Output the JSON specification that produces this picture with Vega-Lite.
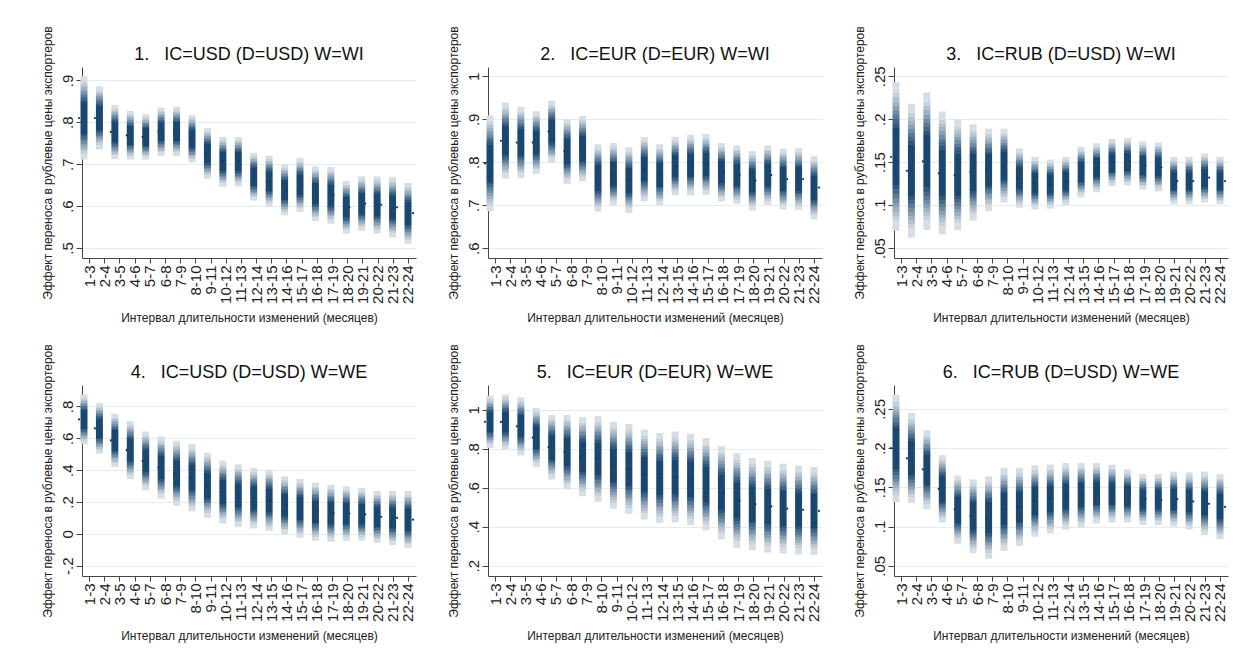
{
"$schema": "https://vega.github.io/schema/vega-lite/v6.json",
"background": "white",
"padding": {"left": 40, "top": 25, "right": 5, "bottom": 5},
"datasets": {"d": [
{"panel":1,"interval":"1-3","from":1,"est":0.810,"lo":0.711,"hi":0.910},
{"panel":1,"interval":"2-4","from":2,"est":0.810,"lo":0.735,"hi":0.886},
{"panel":1,"interval":"3-5","from":3,"est":0.777,"lo":0.712,"hi":0.841},
{"panel":1,"interval":"4-6","from":4,"est":0.769,"lo":0.711,"hi":0.827},
{"panel":1,"interval":"5-7","from":5,"est":0.765,"lo":0.711,"hi":0.819},
{"panel":1,"interval":"6-8","from":6,"est":0.778,"lo":0.720,"hi":0.835},
{"panel":1,"interval":"7-9","from":7,"est":0.779,"lo":0.720,"hi":0.837},
{"panel":1,"interval":"8-10","from":8,"est":0.761,"lo":0.704,"hi":0.817},
{"panel":1,"interval":"9-11","from":9,"est":0.726,"lo":0.665,"hi":0.786},
{"panel":1,"interval":"10-12","from":10,"est":0.706,"lo":0.646,"hi":0.765},
{"panel":1,"interval":"11-13","from":11,"est":0.706,"lo":0.647,"hi":0.765},
{"panel":1,"interval":"12-14","from":12,"est":0.670,"lo":0.613,"hi":0.727},
{"panel":1,"interval":"13-15","from":13,"est":0.659,"lo":0.599,"hi":0.720},
{"panel":1,"interval":"14-16","from":14,"est":0.638,"lo":0.578,"hi":0.699},
{"panel":1,"interval":"15-17","from":15,"est":0.650,"lo":0.586,"hi":0.715},
{"panel":1,"interval":"16-18","from":16,"est":0.630,"lo":0.564,"hi":0.695},
{"panel":1,"interval":"17-19","from":17,"est":0.626,"lo":0.558,"hi":0.693},
{"panel":1,"interval":"18-20","from":18,"est":0.597,"lo":0.534,"hi":0.660},
{"panel":1,"interval":"19-21","from":19,"est":0.606,"lo":0.541,"hi":0.671},
{"panel":1,"interval":"20-22","from":20,"est":0.603,"lo":0.534,"hi":0.671},
{"panel":1,"interval":"21-23","from":21,"est":0.597,"lo":0.525,"hi":0.669},
{"panel":1,"interval":"22-24","from":22,"est":0.583,"lo":0.510,"hi":0.655},
{"panel":2,"interval":"1-3","from":1,"est":0.797,"lo":0.686,"hi":0.909},
{"panel":2,"interval":"2-4","from":2,"est":0.850,"lo":0.762,"hi":0.939},
{"panel":2,"interval":"3-5","from":3,"est":0.846,"lo":0.763,"hi":0.929},
{"panel":2,"interval":"4-6","from":4,"est":0.846,"lo":0.773,"hi":0.919},
{"panel":2,"interval":"5-7","from":5,"est":0.872,"lo":0.799,"hi":0.944},
{"panel":2,"interval":"6-8","from":6,"est":0.826,"lo":0.750,"hi":0.901},
{"panel":2,"interval":"7-9","from":7,"est":0.832,"lo":0.756,"hi":0.908},
{"panel":2,"interval":"8-10","from":8,"est":0.764,"lo":0.685,"hi":0.842},
{"panel":2,"interval":"9-11","from":9,"est":0.772,"lo":0.699,"hi":0.845},
{"panel":2,"interval":"10-12","from":10,"est":0.759,"lo":0.682,"hi":0.835},
{"panel":2,"interval":"11-13","from":11,"est":0.784,"lo":0.709,"hi":0.859},
{"panel":2,"interval":"12-14","from":12,"est":0.771,"lo":0.699,"hi":0.842},
{"panel":2,"interval":"13-15","from":13,"est":0.791,"lo":0.723,"hi":0.859},
{"panel":2,"interval":"14-16","from":14,"est":0.793,"lo":0.723,"hi":0.864},
{"panel":2,"interval":"15-17","from":15,"est":0.795,"lo":0.724,"hi":0.866},
{"panel":2,"interval":"16-18","from":16,"est":0.777,"lo":0.709,"hi":0.845},
{"panel":2,"interval":"17-19","from":17,"est":0.771,"lo":0.703,"hi":0.839},
{"panel":2,"interval":"18-20","from":18,"est":0.757,"lo":0.688,"hi":0.826},
{"panel":2,"interval":"19-21","from":19,"est":0.770,"lo":0.701,"hi":0.839},
{"panel":2,"interval":"20-22","from":20,"est":0.761,"lo":0.690,"hi":0.832},
{"panel":2,"interval":"21-23","from":21,"est":0.761,"lo":0.689,"hi":0.833},
{"panel":2,"interval":"22-24","from":22,"est":0.741,"lo":0.667,"hi":0.814},
{"panel":3,"interval":"1-3","from":1,"est":0.156,"lo":0.070,"hi":0.243},
{"panel":3,"interval":"2-4","from":2,"est":0.140,"lo":0.062,"hi":0.218},
{"panel":3,"interval":"3-5","from":3,"est":0.151,"lo":0.071,"hi":0.231},
{"panel":3,"interval":"4-6","from":4,"est":0.137,"lo":0.066,"hi":0.209},
{"panel":3,"interval":"5-7","from":5,"est":0.135,"lo":0.071,"hi":0.200},
{"panel":3,"interval":"6-8","from":6,"est":0.138,"lo":0.082,"hi":0.194},
{"panel":3,"interval":"7-9","from":7,"est":0.141,"lo":0.093,"hi":0.189},
{"panel":3,"interval":"8-10","from":8,"est":0.146,"lo":0.103,"hi":0.189},
{"panel":3,"interval":"9-11","from":9,"est":0.131,"lo":0.097,"hi":0.166},
{"panel":3,"interval":"10-12","from":10,"est":0.125,"lo":0.095,"hi":0.156},
{"panel":3,"interval":"11-13","from":11,"est":0.124,"lo":0.096,"hi":0.153},
{"panel":3,"interval":"12-14","from":12,"est":0.128,"lo":0.100,"hi":0.156},
{"panel":3,"interval":"13-15","from":13,"est":0.139,"lo":0.109,"hi":0.168},
{"panel":3,"interval":"14-16","from":14,"est":0.143,"lo":0.115,"hi":0.172},
{"panel":3,"interval":"15-17","from":15,"est":0.150,"lo":0.122,"hi":0.177},
{"panel":3,"interval":"16-18","from":16,"est":0.151,"lo":0.123,"hi":0.178},
{"panel":3,"interval":"17-19","from":17,"est":0.146,"lo":0.118,"hi":0.174},
{"panel":3,"interval":"18-20","from":18,"est":0.144,"lo":0.116,"hi":0.173},
{"panel":3,"interval":"19-21","from":19,"est":0.128,"lo":0.101,"hi":0.156},
{"panel":3,"interval":"20-22","from":20,"est":0.128,"lo":0.101,"hi":0.156},
{"panel":3,"interval":"21-23","from":21,"est":0.132,"lo":0.103,"hi":0.160},
{"panel":3,"interval":"22-24","from":22,"est":0.128,"lo":0.101,"hi":0.156},
{"panel":4,"interval":"1-3","from":1,"est":0.719,"lo":0.562,"hi":0.875},
{"panel":4,"interval":"2-4","from":2,"est":0.662,"lo":0.504,"hi":0.821},
{"panel":4,"interval":"3-5","from":3,"est":0.587,"lo":0.420,"hi":0.754},
{"panel":4,"interval":"4-6","from":4,"est":0.526,"lo":0.343,"hi":0.708},
{"panel":4,"interval":"5-7","from":5,"est":0.459,"lo":0.274,"hi":0.643},
{"panel":4,"interval":"6-8","from":6,"est":0.417,"lo":0.222,"hi":0.612},
{"panel":4,"interval":"7-9","from":7,"est":0.380,"lo":0.176,"hi":0.585},
{"panel":4,"interval":"8-10","from":8,"est":0.353,"lo":0.142,"hi":0.564},
{"panel":4,"interval":"9-11","from":9,"est":0.305,"lo":0.101,"hi":0.510},
{"panel":4,"interval":"10-12","from":10,"est":0.262,"lo":0.065,"hi":0.460},
{"panel":4,"interval":"11-13","from":11,"est":0.241,"lo":0.044,"hi":0.437},
{"panel":4,"interval":"12-14","from":12,"est":0.224,"lo":0.034,"hi":0.414},
{"panel":4,"interval":"13-15","from":13,"est":0.211,"lo":0.019,"hi":0.403},
{"panel":4,"interval":"14-16","from":14,"est":0.179,"lo":-0.004,"hi":0.362},
{"panel":4,"interval":"15-17","from":15,"est":0.160,"lo":-0.025,"hi":0.345},
{"panel":4,"interval":"16-18","from":16,"est":0.139,"lo":-0.043,"hi":0.322},
{"panel":4,"interval":"17-19","from":17,"est":0.130,"lo":-0.050,"hi":0.309},
{"panel":4,"interval":"18-20","from":18,"est":0.128,"lo":-0.043,"hi":0.299},
{"panel":4,"interval":"19-21","from":19,"est":0.123,"lo":-0.043,"hi":0.289},
{"panel":4,"interval":"20-22","from":20,"est":0.107,"lo":-0.056,"hi":0.270},
{"panel":4,"interval":"21-23","from":21,"est":0.100,"lo":-0.071,"hi":0.270},
{"panel":4,"interval":"22-24","from":22,"est":0.089,"lo":-0.091,"hi":0.270},
{"panel":5,"interval":"1-3","from":1,"est":0.939,"lo":0.804,"hi":1.073},
{"panel":5,"interval":"2-4","from":2,"est":0.938,"lo":0.797,"hi":1.079},
{"panel":5,"interval":"3-5","from":3,"est":0.916,"lo":0.766,"hi":1.065},
{"panel":5,"interval":"4-6","from":4,"est":0.858,"lo":0.707,"hi":1.010},
{"panel":5,"interval":"5-7","from":5,"est":0.808,"lo":0.642,"hi":0.974},
{"panel":5,"interval":"6-8","from":6,"est":0.783,"lo":0.592,"hi":0.974},
{"panel":5,"interval":"7-9","from":7,"est":0.760,"lo":0.557,"hi":0.963},
{"panel":5,"interval":"8-10","from":8,"est":0.748,"lo":0.528,"hi":0.968},
{"panel":5,"interval":"9-11","from":9,"est":0.717,"lo":0.493,"hi":0.940},
{"panel":5,"interval":"10-12","from":10,"est":0.697,"lo":0.466,"hi":0.928},
{"panel":5,"interval":"11-13","from":11,"est":0.668,"lo":0.437,"hi":0.899},
{"panel":5,"interval":"12-14","from":12,"est":0.651,"lo":0.420,"hi":0.882},
{"panel":5,"interval":"13-15","from":13,"est":0.655,"lo":0.422,"hi":0.889},
{"panel":5,"interval":"14-16","from":14,"est":0.643,"lo":0.408,"hi":0.877},
{"panel":5,"interval":"15-17","from":15,"est":0.618,"lo":0.381,"hi":0.855},
{"panel":5,"interval":"16-18","from":16,"est":0.574,"lo":0.335,"hi":0.814},
{"panel":5,"interval":"17-19","from":17,"est":0.534,"lo":0.292,"hi":0.777},
{"panel":5,"interval":"18-20","from":18,"est":0.516,"lo":0.280,"hi":0.753},
{"panel":5,"interval":"19-21","from":19,"est":0.504,"lo":0.268,"hi":0.739},
{"panel":5,"interval":"20-22","from":20,"est":0.493,"lo":0.263,"hi":0.724},
{"panel":5,"interval":"21-23","from":21,"est":0.487,"lo":0.258,"hi":0.715},
{"panel":5,"interval":"22-24","from":22,"est":0.481,"lo":0.255,"hi":0.707},
{"panel":6,"interval":"1-3","from":1,"est":0.200,"lo":0.131,"hi":0.268},
{"panel":6,"interval":"2-4","from":2,"est":0.187,"lo":0.130,"hi":0.245},
{"panel":6,"interval":"3-5","from":3,"est":0.173,"lo":0.122,"hi":0.223},
{"panel":6,"interval":"4-6","from":4,"est":0.148,"lo":0.105,"hi":0.191},
{"panel":6,"interval":"5-7","from":5,"est":0.122,"lo":0.078,"hi":0.165},
{"panel":6,"interval":"6-8","from":6,"est":0.113,"lo":0.066,"hi":0.160},
{"panel":6,"interval":"7-9","from":7,"est":0.111,"lo":0.059,"hi":0.164},
{"panel":6,"interval":"8-10","from":8,"est":0.122,"lo":0.069,"hi":0.175},
{"panel":6,"interval":"9-11","from":9,"est":0.125,"lo":0.075,"hi":0.175},
{"panel":6,"interval":"10-12","from":10,"est":0.133,"lo":0.087,"hi":0.178},
{"panel":6,"interval":"11-13","from":11,"est":0.135,"lo":0.091,"hi":0.179},
{"panel":6,"interval":"12-14","from":12,"est":0.139,"lo":0.096,"hi":0.181},
{"panel":6,"interval":"13-15","from":13,"est":0.140,"lo":0.099,"hi":0.181},
{"panel":6,"interval":"14-16","from":14,"est":0.143,"lo":0.104,"hi":0.181},
{"panel":6,"interval":"15-17","from":15,"est":0.142,"lo":0.105,"hi":0.179},
{"panel":6,"interval":"16-18","from":16,"est":0.139,"lo":0.105,"hi":0.173},
{"panel":6,"interval":"17-19","from":17,"est":0.135,"lo":0.102,"hi":0.167},
{"panel":6,"interval":"18-20","from":18,"est":0.134,"lo":0.102,"hi":0.167},
{"panel":6,"interval":"19-21","from":19,"est":0.135,"lo":0.100,"hi":0.170},
{"panel":6,"interval":"20-22","from":20,"est":0.132,"lo":0.096,"hi":0.169},
{"panel":6,"interval":"21-23","from":21,"est":0.129,"lo":0.089,"hi":0.170},
{"panel":6,"interval":"22-24","from":22,"est":0.125,"lo":0.084,"hi":0.167}
]},
"data": {"name": "d"},
"columns": 3,
"spacing": {"row": 127, "column": 72},
"bounds": "flush",
"concat": [
{"title": {"text": "1.\u00a0\u00a0\u00a0IC=USD (D=USD) W=WI"}, "width": 334, "height": 191,
 "transform": [{"filter": "datum.panel == 1"}],
 "layer": [
  {"mark": {"type": "rule", "opacity": 0}, "encoding": {"x": {"field": "interval", "type": "ordinal", "sort": {"field": "from", "op": "min"}, "scale": {"type": "band", "paddingInner": 0, "paddingOuter": 0}, "axis": {"title": "Интервал длительности изменений (месяцев)", "orient": "bottom", "labelOverlap": false}}}},
  {"mark": {"type": "bar", "width": 7, "xOffset": -3, "clip": false, "color": {"gradient": "linear", "x1": 0, "y1": 0, "x2": 0, "y2": 1, "stops": [{"offset": 0, "color": "#d6dee5"}, {"offset": 0.07, "color": "#d6dee5"}, {"offset": 0.07, "color": "#c6d1db"}, {"offset": 0.1, "color": "#c6d1db"}, {"offset": 0.1, "color": "#b3c2cf"}, {"offset": 0.13, "color": "#b3c2cf"}, {"offset": 0.13, "color": "#9fb2c3"}, {"offset": 0.16, "color": "#9fb2c3"}, {"offset": 0.16, "color": "#889fb4"}, {"offset": 0.19, "color": "#889fb4"}, {"offset": 0.19, "color": "#718da6"}, {"offset": 0.22, "color": "#718da6"}, {"offset": 0.22, "color": "#5a7a97"}, {"offset": 0.25, "color": "#5a7a97"}, {"offset": 0.25, "color": "#436889"}, {"offset": 0.28, "color": "#436889"}, {"offset": 0.28, "color": "#2f587c"}, {"offset": 0.31, "color": "#2f587c"}, {"offset": 0.31, "color": "#1a476f"}, {"offset": 0.69, "color": "#1a476f"}, {"offset": 0.69, "color": "#2f587c"}, {"offset": 0.72, "color": "#2f587c"}, {"offset": 0.72, "color": "#436889"}, {"offset": 0.75, "color": "#436889"}, {"offset": 0.75, "color": "#5a7a97"}, {"offset": 0.78, "color": "#5a7a97"}, {"offset": 0.78, "color": "#718da6"}, {"offset": 0.81, "color": "#718da6"}, {"offset": 0.81, "color": "#889fb4"}, {"offset": 0.84, "color": "#889fb4"}, {"offset": 0.84, "color": "#9fb2c3"}, {"offset": 0.87, "color": "#9fb2c3"}, {"offset": 0.87, "color": "#b3c2cf"}, {"offset": 0.9, "color": "#b3c2cf"}, {"offset": 0.9, "color": "#c6d1db"}, {"offset": 0.93, "color": "#c6d1db"}, {"offset": 0.93, "color": "#d6dee5"}, {"offset": 1, "color": "#d6dee5"}]}},
   "encoding": {"x": {"field": "from", "type": "quantitative", "scale": {"domain": [1, 22], "nice": false, "zero": false}, "axis": null},
    "y": {"field": "lo", "type": "quantitative", "scale": {"domain": [0.476, 0.932], "nice": false, "zero": false}, "axis": {"title": "Эффект переноса в рублевые цены экспортеров", "values": [0.5, 0.6, 0.7, 0.8, 0.9], "tickCount": 12, "labelOverlap": false}},
    "y2": {"field": "hi"}}},
  {"mark": {"type": "circle", "size": 5, "opacity": 1, "color": "#14395c", "xOffset": -3, "clip": false},
   "encoding": {"x": {"field": "from", "type": "quantitative", "scale": {"domain": [1, 22], "nice": false, "zero": false}, "axis": null}, "y": {"field": "est", "type": "quantitative"}}}
 ],
 "resolve": {"scale": {"x": "independent"}}},
{"title": {"text": "2.\u00a0\u00a0\u00a0IC=EUR (D=EUR) W=WI"}, "width": 334, "height": 191,
 "transform": [{"filter": "datum.panel == 2"}],
 "layer": [
  {"mark": {"type": "rule", "opacity": 0}, "encoding": {"x": {"field": "interval", "type": "ordinal", "sort": {"field": "from", "op": "min"}, "scale": {"type": "band", "paddingInner": 0, "paddingOuter": 0}, "axis": {"title": "Интервал длительности изменений (месяцев)", "orient": "bottom", "labelOverlap": false}}}},
  {"mark": {"type": "bar", "width": 7, "xOffset": -3, "clip": false, "color": {"gradient": "linear", "x1": 0, "y1": 0, "x2": 0, "y2": 1, "stops": [{"offset": 0, "color": "#d6dee5"}, {"offset": 0.07, "color": "#d6dee5"}, {"offset": 0.07, "color": "#c6d1db"}, {"offset": 0.1, "color": "#c6d1db"}, {"offset": 0.1, "color": "#b3c2cf"}, {"offset": 0.13, "color": "#b3c2cf"}, {"offset": 0.13, "color": "#9fb2c3"}, {"offset": 0.16, "color": "#9fb2c3"}, {"offset": 0.16, "color": "#889fb4"}, {"offset": 0.19, "color": "#889fb4"}, {"offset": 0.19, "color": "#718da6"}, {"offset": 0.22, "color": "#718da6"}, {"offset": 0.22, "color": "#5a7a97"}, {"offset": 0.25, "color": "#5a7a97"}, {"offset": 0.25, "color": "#436889"}, {"offset": 0.28, "color": "#436889"}, {"offset": 0.28, "color": "#2f587c"}, {"offset": 0.31, "color": "#2f587c"}, {"offset": 0.31, "color": "#1a476f"}, {"offset": 0.69, "color": "#1a476f"}, {"offset": 0.69, "color": "#2f587c"}, {"offset": 0.72, "color": "#2f587c"}, {"offset": 0.72, "color": "#436889"}, {"offset": 0.75, "color": "#436889"}, {"offset": 0.75, "color": "#5a7a97"}, {"offset": 0.78, "color": "#5a7a97"}, {"offset": 0.78, "color": "#718da6"}, {"offset": 0.81, "color": "#718da6"}, {"offset": 0.81, "color": "#889fb4"}, {"offset": 0.84, "color": "#889fb4"}, {"offset": 0.84, "color": "#9fb2c3"}, {"offset": 0.87, "color": "#9fb2c3"}, {"offset": 0.87, "color": "#b3c2cf"}, {"offset": 0.9, "color": "#b3c2cf"}, {"offset": 0.9, "color": "#c6d1db"}, {"offset": 0.93, "color": "#c6d1db"}, {"offset": 0.93, "color": "#d6dee5"}, {"offset": 1, "color": "#d6dee5"}]}},
   "encoding": {"x": {"field": "from", "type": "quantitative", "scale": {"domain": [1, 22], "nice": false, "zero": false}, "axis": null},
    "y": {"field": "lo", "type": "quantitative", "scale": {"domain": [0.577, 1.022], "nice": false, "zero": false}, "axis": {"title": "Эффект переноса в рублевые цены экспортеров", "values": [0.6, 0.7, 0.8, 0.9, 1], "tickCount": 12, "labelOverlap": false}},
    "y2": {"field": "hi"}}},
  {"mark": {"type": "circle", "size": 5, "opacity": 1, "color": "#14395c", "xOffset": -3, "clip": false},
   "encoding": {"x": {"field": "from", "type": "quantitative", "scale": {"domain": [1, 22], "nice": false, "zero": false}, "axis": null}, "y": {"field": "est", "type": "quantitative"}}}
 ],
 "resolve": {"scale": {"x": "independent"}}},
{"title": {"text": "3.\u00a0\u00a0\u00a0IC=RUB (D=USD) W=WI"}, "width": 334, "height": 191,
 "transform": [{"filter": "datum.panel == 3"}],
 "layer": [
  {"mark": {"type": "rule", "opacity": 0}, "encoding": {"x": {"field": "interval", "type": "ordinal", "sort": {"field": "from", "op": "min"}, "scale": {"type": "band", "paddingInner": 0, "paddingOuter": 0}, "axis": {"title": "Интервал длительности изменений (месяцев)", "orient": "bottom", "labelOverlap": false}}}},
  {"mark": {"type": "bar", "width": 7, "xOffset": -3, "clip": false, "color": {"gradient": "linear", "x1": 0, "y1": 0, "x2": 0, "y2": 1, "stops": [{"offset": 0, "color": "#d6dee5"}, {"offset": 0.07, "color": "#d6dee5"}, {"offset": 0.07, "color": "#c6d1db"}, {"offset": 0.1, "color": "#c6d1db"}, {"offset": 0.1, "color": "#b3c2cf"}, {"offset": 0.13, "color": "#b3c2cf"}, {"offset": 0.13, "color": "#9fb2c3"}, {"offset": 0.16, "color": "#9fb2c3"}, {"offset": 0.16, "color": "#889fb4"}, {"offset": 0.19, "color": "#889fb4"}, {"offset": 0.19, "color": "#718da6"}, {"offset": 0.22, "color": "#718da6"}, {"offset": 0.22, "color": "#5a7a97"}, {"offset": 0.25, "color": "#5a7a97"}, {"offset": 0.25, "color": "#436889"}, {"offset": 0.28, "color": "#436889"}, {"offset": 0.28, "color": "#2f587c"}, {"offset": 0.31, "color": "#2f587c"}, {"offset": 0.31, "color": "#1a476f"}, {"offset": 0.69, "color": "#1a476f"}, {"offset": 0.69, "color": "#2f587c"}, {"offset": 0.72, "color": "#2f587c"}, {"offset": 0.72, "color": "#436889"}, {"offset": 0.75, "color": "#436889"}, {"offset": 0.75, "color": "#5a7a97"}, {"offset": 0.78, "color": "#5a7a97"}, {"offset": 0.78, "color": "#718da6"}, {"offset": 0.81, "color": "#718da6"}, {"offset": 0.81, "color": "#889fb4"}, {"offset": 0.84, "color": "#889fb4"}, {"offset": 0.84, "color": "#9fb2c3"}, {"offset": 0.87, "color": "#9fb2c3"}, {"offset": 0.87, "color": "#b3c2cf"}, {"offset": 0.9, "color": "#b3c2cf"}, {"offset": 0.9, "color": "#c6d1db"}, {"offset": 0.93, "color": "#c6d1db"}, {"offset": 0.93, "color": "#d6dee5"}, {"offset": 1, "color": "#d6dee5"}]}},
   "encoding": {"x": {"field": "from", "type": "quantitative", "scale": {"domain": [1, 22], "nice": false, "zero": false}, "axis": null},
    "y": {"field": "lo", "type": "quantitative", "scale": {"domain": [0.0384, 0.2608], "nice": false, "zero": false}, "axis": {"title": "Эффект переноса в рублевые цены экспортеров", "values": [0.05, 0.1, 0.15, 0.2, 0.25], "tickCount": 12, "labelOverlap": false}},
    "y2": {"field": "hi"}}},
  {"mark": {"type": "circle", "size": 5, "opacity": 1, "color": "#14395c", "xOffset": -3, "clip": false},
   "encoding": {"x": {"field": "from", "type": "quantitative", "scale": {"domain": [1, 22], "nice": false, "zero": false}, "axis": null}, "y": {"field": "est", "type": "quantitative"}}}
 ],
 "resolve": {"scale": {"x": "independent"}}},
{"title": {"text": "4.\u00a0\u00a0\u00a0IC=USD (D=USD) W=WE"}, "width": 334, "height": 191,
 "transform": [{"filter": "datum.panel == 4"}],
 "layer": [
  {"mark": {"type": "rule", "opacity": 0}, "encoding": {"x": {"field": "interval", "type": "ordinal", "sort": {"field": "from", "op": "min"}, "scale": {"type": "band", "paddingInner": 0, "paddingOuter": 0}, "axis": {"title": "Интервал длительности изменений (месяцев)", "orient": "bottom", "labelOverlap": false}}}},
  {"mark": {"type": "bar", "width": 7, "xOffset": -3, "clip": false, "color": {"gradient": "linear", "x1": 0, "y1": 0, "x2": 0, "y2": 1, "stops": [{"offset": 0, "color": "#d6dee5"}, {"offset": 0.07, "color": "#d6dee5"}, {"offset": 0.07, "color": "#c6d1db"}, {"offset": 0.1, "color": "#c6d1db"}, {"offset": 0.1, "color": "#b3c2cf"}, {"offset": 0.13, "color": "#b3c2cf"}, {"offset": 0.13, "color": "#9fb2c3"}, {"offset": 0.16, "color": "#9fb2c3"}, {"offset": 0.16, "color": "#889fb4"}, {"offset": 0.19, "color": "#889fb4"}, {"offset": 0.19, "color": "#718da6"}, {"offset": 0.22, "color": "#718da6"}, {"offset": 0.22, "color": "#5a7a97"}, {"offset": 0.25, "color": "#5a7a97"}, {"offset": 0.25, "color": "#436889"}, {"offset": 0.28, "color": "#436889"}, {"offset": 0.28, "color": "#2f587c"}, {"offset": 0.31, "color": "#2f587c"}, {"offset": 0.31, "color": "#1a476f"}, {"offset": 0.69, "color": "#1a476f"}, {"offset": 0.69, "color": "#2f587c"}, {"offset": 0.72, "color": "#2f587c"}, {"offset": 0.72, "color": "#436889"}, {"offset": 0.75, "color": "#436889"}, {"offset": 0.75, "color": "#5a7a97"}, {"offset": 0.78, "color": "#5a7a97"}, {"offset": 0.78, "color": "#718da6"}, {"offset": 0.81, "color": "#718da6"}, {"offset": 0.81, "color": "#889fb4"}, {"offset": 0.84, "color": "#889fb4"}, {"offset": 0.84, "color": "#9fb2c3"}, {"offset": 0.87, "color": "#9fb2c3"}, {"offset": 0.87, "color": "#b3c2cf"}, {"offset": 0.9, "color": "#b3c2cf"}, {"offset": 0.9, "color": "#c6d1db"}, {"offset": 0.93, "color": "#c6d1db"}, {"offset": 0.93, "color": "#d6dee5"}, {"offset": 1, "color": "#d6dee5"}]}},
   "encoding": {"x": {"field": "from", "type": "quantitative", "scale": {"domain": [1, 22], "nice": false, "zero": false}, "axis": null},
    "y": {"field": "lo", "type": "quantitative", "scale": {"domain": [-0.2645, 0.935], "nice": false, "zero": false}, "axis": {"title": "Эффект переноса в рублевые цены экспортеров", "values": [-0.2, 0, 0.2, 0.4, 0.6, 0.8], "tickCount": 12, "labelOverlap": false}},
    "y2": {"field": "hi"}}},
  {"mark": {"type": "circle", "size": 5, "opacity": 1, "color": "#14395c", "xOffset": -3, "clip": false},
   "encoding": {"x": {"field": "from", "type": "quantitative", "scale": {"domain": [1, 22], "nice": false, "zero": false}, "axis": null}, "y": {"field": "est", "type": "quantitative"}}}
 ],
 "resolve": {"scale": {"x": "independent"}}},
{"title": {"text": "5.\u00a0\u00a0\u00a0IC=EUR (D=EUR) W=WE"}, "width": 334, "height": 191,
 "transform": [{"filter": "datum.panel == 5"}],
 "layer": [
  {"mark": {"type": "rule", "opacity": 0}, "encoding": {"x": {"field": "interval", "type": "ordinal", "sort": {"field": "from", "op": "min"}, "scale": {"type": "band", "paddingInner": 0, "paddingOuter": 0}, "axis": {"title": "Интервал длительности изменений (месяцев)", "orient": "bottom", "labelOverlap": false}}}},
  {"mark": {"type": "bar", "width": 7, "xOffset": -3, "clip": false, "color": {"gradient": "linear", "x1": 0, "y1": 0, "x2": 0, "y2": 1, "stops": [{"offset": 0, "color": "#d6dee5"}, {"offset": 0.07, "color": "#d6dee5"}, {"offset": 0.07, "color": "#c6d1db"}, {"offset": 0.1, "color": "#c6d1db"}, {"offset": 0.1, "color": "#b3c2cf"}, {"offset": 0.13, "color": "#b3c2cf"}, {"offset": 0.13, "color": "#9fb2c3"}, {"offset": 0.16, "color": "#9fb2c3"}, {"offset": 0.16, "color": "#889fb4"}, {"offset": 0.19, "color": "#889fb4"}, {"offset": 0.19, "color": "#718da6"}, {"offset": 0.22, "color": "#718da6"}, {"offset": 0.22, "color": "#5a7a97"}, {"offset": 0.25, "color": "#5a7a97"}, {"offset": 0.25, "color": "#436889"}, {"offset": 0.28, "color": "#436889"}, {"offset": 0.28, "color": "#2f587c"}, {"offset": 0.31, "color": "#2f587c"}, {"offset": 0.31, "color": "#1a476f"}, {"offset": 0.69, "color": "#1a476f"}, {"offset": 0.69, "color": "#2f587c"}, {"offset": 0.72, "color": "#2f587c"}, {"offset": 0.72, "color": "#436889"}, {"offset": 0.75, "color": "#436889"}, {"offset": 0.75, "color": "#5a7a97"}, {"offset": 0.78, "color": "#5a7a97"}, {"offset": 0.78, "color": "#718da6"}, {"offset": 0.81, "color": "#718da6"}, {"offset": 0.81, "color": "#889fb4"}, {"offset": 0.84, "color": "#889fb4"}, {"offset": 0.84, "color": "#9fb2c3"}, {"offset": 0.87, "color": "#9fb2c3"}, {"offset": 0.87, "color": "#b3c2cf"}, {"offset": 0.9, "color": "#b3c2cf"}, {"offset": 0.9, "color": "#c6d1db"}, {"offset": 0.93, "color": "#c6d1db"}, {"offset": 0.93, "color": "#d6dee5"}, {"offset": 1, "color": "#d6dee5"}]}},
   "encoding": {"x": {"field": "from", "type": "quantitative", "scale": {"domain": [1, 22], "nice": false, "zero": false}, "axis": null},
    "y": {"field": "lo", "type": "quantitative", "scale": {"domain": [0.147, 1.128], "nice": false, "zero": false}, "axis": {"title": "Эффект переноса в рублевые цены экспортеров", "values": [0.2, 0.4, 0.6, 0.8, 1], "tickCount": 12, "labelOverlap": false}},
    "y2": {"field": "hi"}}},
  {"mark": {"type": "circle", "size": 5, "opacity": 1, "color": "#14395c", "xOffset": -3, "clip": false},
   "encoding": {"x": {"field": "from", "type": "quantitative", "scale": {"domain": [1, 22], "nice": false, "zero": false}, "axis": null}, "y": {"field": "est", "type": "quantitative"}}}
 ],
 "resolve": {"scale": {"x": "independent"}}},
{"title": {"text": "6.\u00a0\u00a0\u00a0IC=RUB (D=USD) W=WE"}, "width": 334, "height": 191,
 "transform": [{"filter": "datum.panel == 6"}],
 "layer": [
  {"mark": {"type": "rule", "opacity": 0}, "encoding": {"x": {"field": "interval", "type": "ordinal", "sort": {"field": "from", "op": "min"}, "scale": {"type": "band", "paddingInner": 0, "paddingOuter": 0}, "axis": {"title": "Интервал длительности изменений (месяцев)", "orient": "bottom", "labelOverlap": false}}}},
  {"mark": {"type": "bar", "width": 7, "xOffset": -3, "clip": false, "color": {"gradient": "linear", "x1": 0, "y1": 0, "x2": 0, "y2": 1, "stops": [{"offset": 0, "color": "#d6dee5"}, {"offset": 0.07, "color": "#d6dee5"}, {"offset": 0.07, "color": "#c6d1db"}, {"offset": 0.1, "color": "#c6d1db"}, {"offset": 0.1, "color": "#b3c2cf"}, {"offset": 0.13, "color": "#b3c2cf"}, {"offset": 0.13, "color": "#9fb2c3"}, {"offset": 0.16, "color": "#9fb2c3"}, {"offset": 0.16, "color": "#889fb4"}, {"offset": 0.19, "color": "#889fb4"}, {"offset": 0.19, "color": "#718da6"}, {"offset": 0.22, "color": "#718da6"}, {"offset": 0.22, "color": "#5a7a97"}, {"offset": 0.25, "color": "#5a7a97"}, {"offset": 0.25, "color": "#436889"}, {"offset": 0.28, "color": "#436889"}, {"offset": 0.28, "color": "#2f587c"}, {"offset": 0.31, "color": "#2f587c"}, {"offset": 0.31, "color": "#1a476f"}, {"offset": 0.69, "color": "#1a476f"}, {"offset": 0.69, "color": "#2f587c"}, {"offset": 0.72, "color": "#2f587c"}, {"offset": 0.72, "color": "#436889"}, {"offset": 0.75, "color": "#436889"}, {"offset": 0.75, "color": "#5a7a97"}, {"offset": 0.78, "color": "#5a7a97"}, {"offset": 0.78, "color": "#718da6"}, {"offset": 0.81, "color": "#718da6"}, {"offset": 0.81, "color": "#889fb4"}, {"offset": 0.84, "color": "#889fb4"}, {"offset": 0.84, "color": "#9fb2c3"}, {"offset": 0.87, "color": "#9fb2c3"}, {"offset": 0.87, "color": "#b3c2cf"}, {"offset": 0.9, "color": "#b3c2cf"}, {"offset": 0.9, "color": "#c6d1db"}, {"offset": 0.93, "color": "#c6d1db"}, {"offset": 0.93, "color": "#d6dee5"}, {"offset": 1, "color": "#d6dee5"}]}},
   "encoding": {"x": {"field": "from", "type": "quantitative", "scale": {"domain": [1, 22], "nice": false, "zero": false}, "axis": null},
    "y": {"field": "lo", "type": "quantitative", "scale": {"domain": [0.0369, 0.2805], "nice": false, "zero": false}, "axis": {"title": "Эффект переноса в рублевые цены экспортеров", "values": [0.05, 0.1, 0.15, 0.2, 0.25], "tickCount": 12, "labelOverlap": false}},
    "y2": {"field": "hi"}}},
  {"mark": {"type": "circle", "size": 5, "opacity": 1, "color": "#14395c", "xOffset": -3, "clip": false},
   "encoding": {"x": {"field": "from", "type": "quantitative", "scale": {"domain": [1, 22], "nice": false, "zero": false}, "axis": null}, "y": {"field": "est", "type": "quantitative"}}}
 ],
 "resolve": {"scale": {"x": "independent"}}}
],
"config": {
 "font": "Liberation Sans",
 "view": {"stroke": null},
 "axis": {"labelFont": "Liberation Sans", "labelFontSize": 15, "labelColor": "#222222", "titleFont": "Liberation Sans", "titleFontSize": 12, "titleFontWeight": "normal", "titleColor": "#222222", "domainColor": "#444444", "tickColor": "#444444", "domainWidth": 1, "tickWidth": 1, "labelOverlap": false, "labelFlush": false, "labelBound": false},
 "axisX": {"labelAngle": -90, "labelAlign": "right", "labelBaseline": "middle", "tickSize": 5, "labelPadding": 2, "grid": false, "titlePadding": 9, "bandPosition": 0.5},
 "axisY": {"labelAngle": -90, "labelAlign": "center", "labelBaseline": "bottom", "tickSize": 6, "labelPadding": 1, "grid": true, "gridColor": "#e3ecee", "gridWidth": 1, "titlePadding": 6, "labelExpr": "replace(replace(format(datum.value, '~g'), '\u2212', '-'), /^(-?)0\\./, '$1.')"},
 "title": {"fontSize": 18, "fontWeight": "normal", "font": "Liberation Sans", "color": "#111111", "offset": -38, "anchor": "middle", "frame": "group"}
}
}
